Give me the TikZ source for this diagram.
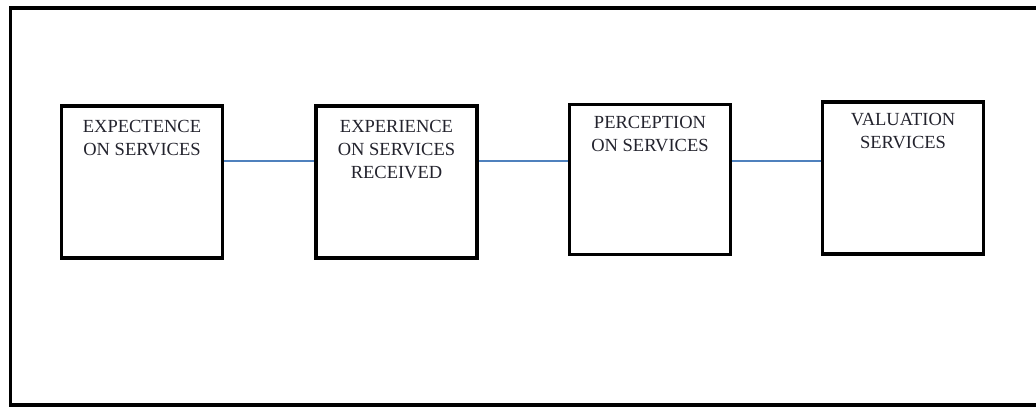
\documentclass[tikz,border=0pt]{standalone}
\usepackage{fontspec}
\setmainfont{Liberation Serif}
\definecolor{connblue}{RGB}{79,129,189}
\definecolor{txtdark}{RGB}{35,35,45}
\begin{document}
\begin{tikzpicture}[x=1pt,y=-1pt,
  stagebox/.style={draw=black, line width=3.9pt, minimum width=161pt, minimum height=152pt, inner sep=0pt},
  stagetext/.style={anchor=north, align=center, inner sep=0pt, text=txtdark,
    font=\fontsize{18.5}{23}\selectfont},
  conn/.style={draw=connblue, line width=1.3pt},
  frame/.style={draw=black, line width=3.4pt}]
\useasboundingbox (0,0) rectangle (1036,407);
\clip (0,0) rectangle (1036,407);
\draw[frame] (10.5,8) rectangle (1045,405);

\node[stagebox] (b1) at (142,182) {};
\node[stagebox] (b2) at (396.5,182) {};
\node[stagebox, minimum height=150pt] (b3) at (650,179.5) {};
\node[stagebox] (b4) at (903,178) {};

\node[stagetext] (t1) at ([yshift=-16pt]b1.north) {EXPECTENCE\\ON SERVICES};
\node[stagetext] (t2) at ([yshift=-16pt]b2.north) {EXPERIENCE\\ON SERVICES\\RECEIVED};
\node[stagetext] (t3) at ([yshift=-13.5pt]b3.north) {PERCEPTION\\ON SERVICES};
\node[stagetext] (t4) at ([yshift=-13pt]b4.north) {VALUATION\\SERVICES};

\coordinate (lvl) at (0,161);
\draw[conn] (b1.east |- lvl) -- (b2.west |- lvl);
\draw[conn] (b2.east |- lvl) -- (b3.west |- lvl);
\draw[conn] (b3.east |- lvl) -- (b4.west |- lvl);
\end{tikzpicture}
\end{document}
